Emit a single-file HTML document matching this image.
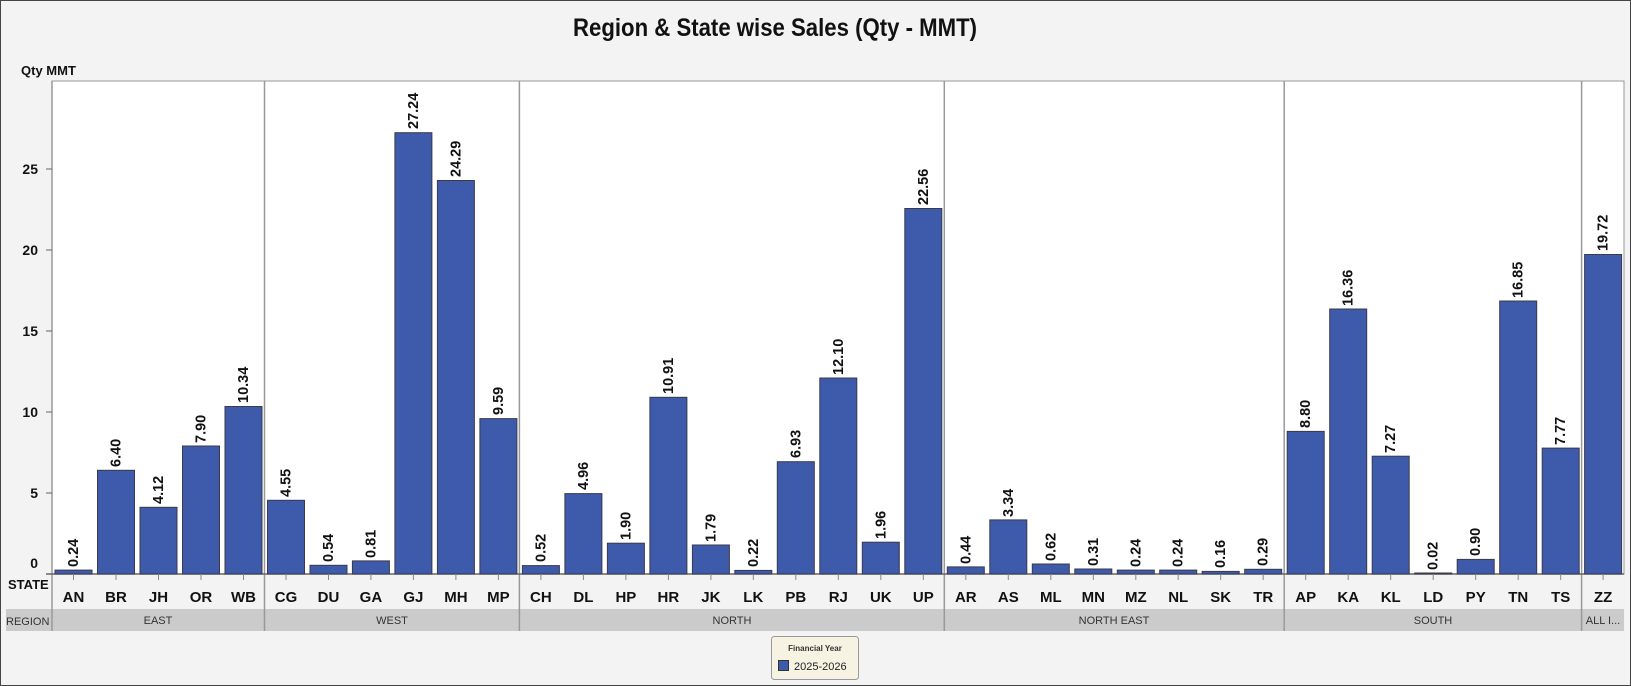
<!DOCTYPE html>
<html><head><meta charset="utf-8"><style>
html,body{margin:0;padding:0;background:#f3f3f3;}
svg{display:block;font-family:"Liberation Sans",sans-serif;}
.v{font-size:14.5px;font-weight:bold;fill:#111;}
.s{font-size:15px;font-weight:bold;fill:#111;text-anchor:middle;}
.r{font-size:11px;fill:#333;text-anchor:middle;}
.y{font-size:14px;font-weight:bold;fill:#111;text-anchor:end;}
rect.b{fill:#3d5aab;stroke:#3a3a4a;stroke-width:1;}
</style></head><body>
<svg width="1631" height="686" viewBox="0 0 1631 686">
<rect x="0.5" y="0.5" width="1630" height="685" fill="#f3f3f3" stroke="#444" stroke-width="1"/>
<text x="775" y="36" font-size="25" font-weight="bold" text-anchor="middle" textLength="404" lengthAdjust="spacingAndGlyphs" fill="#111">Region &amp; State wise Sales (Qty - MMT)</text>
<text x="21" y="75" font-size="13" font-weight="bold" fill="#111">Qty MMT</text>
<rect x="52" y="81" width="1572" height="493" fill="#fff" stroke="#999"/>
<rect x="6" y="609" width="1618" height="22" fill="#cbcbcb"/>
<text x="6" y="625" font-size="11" fill="#333">REGION</text>
<text x="8" y="589" font-size="13" font-weight="bold" fill="#111">STATE</text>
<g stroke="#999" stroke-width="1.5">
<line x1="52" y1="81" x2="52" y2="631"/>
<line x1="264.5" y1="81" x2="264.5" y2="631"/>
<line x1="519.4" y1="81" x2="519.4" y2="631"/>
<line x1="944.3" y1="81" x2="944.3" y2="631"/>
<line x1="1284.2" y1="81" x2="1284.2" y2="631"/>
<line x1="1581.6" y1="81" x2="1581.6" y2="631"/>
</g>
<line x1="46" y1="574" x2="1624" y2="574" stroke="#666" stroke-width="1.5"/>
<g stroke="#666"><line x1="46" y1="169" x2="52" y2="169"/><line x1="46" y1="250" x2="52" y2="250"/><line x1="46" y1="331" x2="52" y2="331"/><line x1="46" y1="412" x2="52" y2="412"/><line x1="46" y1="493" x2="52" y2="493"/></g>
<text class="y" x="38" y="174">25</text><text class="y" x="38" y="255">20</text><text class="y" x="38" y="336">15</text><text class="y" x="38" y="417">10</text><text class="y" x="38" y="498">5</text><text class="y" x="38" y="568">0</text>
<text class="r" x="158" y="624">EAST</text>
<text class="r" x="392" y="624">WEST</text>
<text class="r" x="732" y="624">NORTH</text>
<text class="r" x="1114" y="624">NORTH EAST</text>
<text class="r" x="1433" y="624">SOUTH</text>
<text class="r" x="1603" y="624">ALL I...</text>
<g transform="translate(52,574)"><rect class="b" x="3" y="-3.9" width="37" height="3.9"/><text class="v" transform="translate(26,-7) rotate(-90)">0.24</text><line x1="21.5" y1="0" x2="21.5" y2="6" stroke="#888"/><text class="s" x="21.5" y="28">AN</text></g>
<g transform="translate(94.5,574)"><rect class="b" x="3" y="-103.7" width="37" height="103.7"/><text class="v" transform="translate(26,-107) rotate(-90)">6.40</text><line x1="21.5" y1="0" x2="21.5" y2="6" stroke="#888"/><text class="s" x="21.5" y="28">BR</text></g>
<g transform="translate(137,574)"><rect class="b" x="3" y="-66.7" width="37" height="66.7"/><text class="v" transform="translate(26,-70) rotate(-90)">4.12</text><line x1="21.5" y1="0" x2="21.5" y2="6" stroke="#888"/><text class="s" x="21.5" y="28">JH</text></g>
<g transform="translate(179.5,574)"><rect class="b" x="3" y="-128" width="37" height="128"/><text class="v" transform="translate(26,-131) rotate(-90)">7.90</text><line x1="21.5" y1="0" x2="21.5" y2="6" stroke="#888"/><text class="s" x="21.5" y="28">OR</text></g>
<g transform="translate(222,574)"><rect class="b" x="3" y="-167.5" width="37" height="167.5"/><text class="v" transform="translate(26,-171) rotate(-90)">10.34</text><line x1="21.5" y1="0" x2="21.5" y2="6" stroke="#888"/><text class="s" x="21.5" y="28">WB</text></g>
<g transform="translate(264.5,574)"><rect class="b" x="3" y="-73.7" width="37" height="73.7"/><text class="v" transform="translate(26,-77) rotate(-90)">4.55</text><line x1="21.5" y1="0" x2="21.5" y2="6" stroke="#888"/><text class="s" x="21.5" y="28">CG</text></g>
<g transform="translate(307,574)"><rect class="b" x="3" y="-8.7" width="37" height="8.7"/><text class="v" transform="translate(26,-12) rotate(-90)">0.54</text><line x1="21.5" y1="0" x2="21.5" y2="6" stroke="#888"/><text class="s" x="21.5" y="28">DU</text></g>
<g transform="translate(349.4,574)"><rect class="b" x="3" y="-13.1" width="37" height="13.1"/><text class="v" transform="translate(26,-16) rotate(-90)">0.81</text><line x1="21.5" y1="0" x2="21.5" y2="6" stroke="#888"/><text class="s" x="21.5" y="28">GA</text></g>
<g transform="translate(391.9,574)"><rect class="b" x="3" y="-441.3" width="37" height="441.3"/><text class="v" transform="translate(26,-445) rotate(-90)">27.24</text><line x1="21.5" y1="0" x2="21.5" y2="6" stroke="#888"/><text class="s" x="21.5" y="28">GJ</text></g>
<g transform="translate(434.4,574)"><rect class="b" x="3" y="-393.5" width="37" height="393.5"/><text class="v" transform="translate(26,-397) rotate(-90)">24.29</text><line x1="21.5" y1="0" x2="21.5" y2="6" stroke="#888"/><text class="s" x="21.5" y="28">MH</text></g>
<g transform="translate(476.9,574)"><rect class="b" x="3" y="-155.4" width="37" height="155.4"/><text class="v" transform="translate(26,-159) rotate(-90)">9.59</text><line x1="21.5" y1="0" x2="21.5" y2="6" stroke="#888"/><text class="s" x="21.5" y="28">MP</text></g>
<g transform="translate(519.4,574)"><rect class="b" x="3" y="-8.4" width="37" height="8.4"/><text class="v" transform="translate(26,-12) rotate(-90)">0.52</text><line x1="21.5" y1="0" x2="21.5" y2="6" stroke="#888"/><text class="s" x="21.5" y="28">CH</text></g>
<g transform="translate(561.9,574)"><rect class="b" x="3" y="-80.4" width="37" height="80.4"/><text class="v" transform="translate(26,-84) rotate(-90)">4.96</text><line x1="21.5" y1="0" x2="21.5" y2="6" stroke="#888"/><text class="s" x="21.5" y="28">DL</text></g>
<g transform="translate(604.4,574)"><rect class="b" x="3" y="-30.8" width="37" height="30.8"/><text class="v" transform="translate(26,-34) rotate(-90)">1.90</text><line x1="21.5" y1="0" x2="21.5" y2="6" stroke="#888"/><text class="s" x="21.5" y="28">HP</text></g>
<g transform="translate(646.9,574)"><rect class="b" x="3" y="-176.7" width="37" height="176.7"/><text class="v" transform="translate(26,-180) rotate(-90)">10.91</text><line x1="21.5" y1="0" x2="21.5" y2="6" stroke="#888"/><text class="s" x="21.5" y="28">HR</text></g>
<g transform="translate(689.4,574)"><rect class="b" x="3" y="-29" width="37" height="29"/><text class="v" transform="translate(26,-32) rotate(-90)">1.79</text><line x1="21.5" y1="0" x2="21.5" y2="6" stroke="#888"/><text class="s" x="21.5" y="28">JK</text></g>
<g transform="translate(731.8,574)"><rect class="b" x="3" y="-3.6" width="37" height="3.6"/><text class="v" transform="translate(26,-7) rotate(-90)">0.22</text><line x1="21.5" y1="0" x2="21.5" y2="6" stroke="#888"/><text class="s" x="21.5" y="28">LK</text></g>
<g transform="translate(774.3,574)"><rect class="b" x="3" y="-112.3" width="37" height="112.3"/><text class="v" transform="translate(26,-116) rotate(-90)">6.93</text><line x1="21.5" y1="0" x2="21.5" y2="6" stroke="#888"/><text class="s" x="21.5" y="28">PB</text></g>
<g transform="translate(816.8,574)"><rect class="b" x="3" y="-196" width="37" height="196"/><text class="v" transform="translate(26,-199) rotate(-90)">12.10</text><line x1="21.5" y1="0" x2="21.5" y2="6" stroke="#888"/><text class="s" x="21.5" y="28">RJ</text></g>
<g transform="translate(859.3,574)"><rect class="b" x="3" y="-31.8" width="37" height="31.8"/><text class="v" transform="translate(26,-35) rotate(-90)">1.96</text><line x1="21.5" y1="0" x2="21.5" y2="6" stroke="#888"/><text class="s" x="21.5" y="28">UK</text></g>
<g transform="translate(901.8,574)"><rect class="b" x="3" y="-365.5" width="37" height="365.5"/><text class="v" transform="translate(26,-369) rotate(-90)">22.56</text><line x1="21.5" y1="0" x2="21.5" y2="6" stroke="#888"/><text class="s" x="21.5" y="28">UP</text></g>
<g transform="translate(944.3,574)"><rect class="b" x="3" y="-7.1" width="37" height="7.1"/><text class="v" transform="translate(26,-10) rotate(-90)">0.44</text><line x1="21.5" y1="0" x2="21.5" y2="6" stroke="#888"/><text class="s" x="21.5" y="28">AR</text></g>
<g transform="translate(986.8,574)"><rect class="b" x="3" y="-54.1" width="37" height="54.1"/><text class="v" transform="translate(26,-57) rotate(-90)">3.34</text><line x1="21.5" y1="0" x2="21.5" y2="6" stroke="#888"/><text class="s" x="21.5" y="28">AS</text></g>
<g transform="translate(1029.3,574)"><rect class="b" x="3" y="-10" width="37" height="10"/><text class="v" transform="translate(26,-13) rotate(-90)">0.62</text><line x1="21.5" y1="0" x2="21.5" y2="6" stroke="#888"/><text class="s" x="21.5" y="28">ML</text></g>
<g transform="translate(1071.8,574)"><rect class="b" x="3" y="-5" width="37" height="5"/><text class="v" transform="translate(26,-8) rotate(-90)">0.31</text><line x1="21.5" y1="0" x2="21.5" y2="6" stroke="#888"/><text class="s" x="21.5" y="28">MN</text></g>
<g transform="translate(1114.3,574)"><rect class="b" x="3" y="-3.9" width="37" height="3.9"/><text class="v" transform="translate(26,-7) rotate(-90)">0.24</text><line x1="21.5" y1="0" x2="21.5" y2="6" stroke="#888"/><text class="s" x="21.5" y="28">MZ</text></g>
<g transform="translate(1156.7,574)"><rect class="b" x="3" y="-3.9" width="37" height="3.9"/><text class="v" transform="translate(26,-7) rotate(-90)">0.24</text><line x1="21.5" y1="0" x2="21.5" y2="6" stroke="#888"/><text class="s" x="21.5" y="28">NL</text></g>
<g transform="translate(1199.2,574)"><rect class="b" x="3" y="-2.6" width="37" height="2.6"/><text class="v" transform="translate(26,-6) rotate(-90)">0.16</text><line x1="21.5" y1="0" x2="21.5" y2="6" stroke="#888"/><text class="s" x="21.5" y="28">SK</text></g>
<g transform="translate(1241.7,574)"><rect class="b" x="3" y="-4.7" width="37" height="4.7"/><text class="v" transform="translate(26,-8) rotate(-90)">0.29</text><line x1="21.5" y1="0" x2="21.5" y2="6" stroke="#888"/><text class="s" x="21.5" y="28">TR</text></g>
<g transform="translate(1284.2,574)"><rect class="b" x="3" y="-142.6" width="37" height="142.6"/><text class="v" transform="translate(26,-146) rotate(-90)">8.80</text><line x1="21.5" y1="0" x2="21.5" y2="6" stroke="#888"/><text class="s" x="21.5" y="28">AP</text></g>
<g transform="translate(1326.7,574)"><rect class="b" x="3" y="-265" width="37" height="265"/><text class="v" transform="translate(26,-268) rotate(-90)">16.36</text><line x1="21.5" y1="0" x2="21.5" y2="6" stroke="#888"/><text class="s" x="21.5" y="28">KA</text></g>
<g transform="translate(1369.2,574)"><rect class="b" x="3" y="-117.8" width="37" height="117.8"/><text class="v" transform="translate(26,-121) rotate(-90)">7.27</text><line x1="21.5" y1="0" x2="21.5" y2="6" stroke="#888"/><text class="s" x="21.5" y="28">KL</text></g>
<g transform="translate(1411.7,574)"><rect class="b" x="3" y="-1" width="37" height="1"/><text class="v" transform="translate(26,-4) rotate(-90)">0.02</text><line x1="21.5" y1="0" x2="21.5" y2="6" stroke="#888"/><text class="s" x="21.5" y="28">LD</text></g>
<g transform="translate(1454.2,574)"><rect class="b" x="3" y="-14.6" width="37" height="14.6"/><text class="v" transform="translate(26,-18) rotate(-90)">0.90</text><line x1="21.5" y1="0" x2="21.5" y2="6" stroke="#888"/><text class="s" x="21.5" y="28">PY</text></g>
<g transform="translate(1496.7,574)"><rect class="b" x="3" y="-273" width="37" height="273"/><text class="v" transform="translate(26,-276) rotate(-90)">16.85</text><line x1="21.5" y1="0" x2="21.5" y2="6" stroke="#888"/><text class="s" x="21.5" y="28">TN</text></g>
<g transform="translate(1539.2,574)"><rect class="b" x="3" y="-125.9" width="37" height="125.9"/><text class="v" transform="translate(26,-129) rotate(-90)">7.77</text><line x1="21.5" y1="0" x2="21.5" y2="6" stroke="#888"/><text class="s" x="21.5" y="28">TS</text></g>
<g transform="translate(1581.6,574)"><rect class="b" x="3" y="-319.5" width="37" height="319.5"/><text class="v" transform="translate(26,-323) rotate(-90)">19.72</text><line x1="21.5" y1="0" x2="21.5" y2="6" stroke="#888"/><text class="s" x="21.5" y="28">ZZ</text></g>
<rect x="771.5" y="636.5" width="87" height="43" rx="3" fill="#f7f3e3" stroke="#999"/>
<text x="815" y="651" font-size="8" font-weight="bold" fill="#333" text-anchor="middle">Financial Year</text>
<rect x="778.5" y="660.5" width="10" height="10" fill="#3d5aab" stroke="#333"/>
<text x="794" y="670" font-size="11" fill="#222">2025-2026</text>
</svg>
</body></html>
